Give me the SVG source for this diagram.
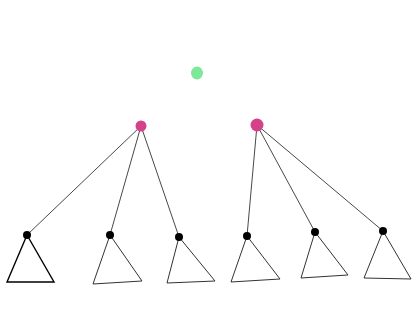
<svg xmlns="http://www.w3.org/2000/svg" width="415" height="325" viewBox="0 0 415 325">
<style>
.e{stroke:#333;stroke-width:0.9;fill:none}
.t{stroke:#333;stroke-width:1;fill:none}
.leaf{fill:#000}
.root{fill:#d6428a}
</style>
<rect width="415" height="325" fill="#fff"/>
<g id="connectors">
<line class="e" x1="141" y1="126" x2="27" y2="235"/>
<line class="e" x1="141" y1="126" x2="110" y2="235"/>
<line class="e" x1="141" y1="126" x2="179" y2="237"/>
<line class="e" x1="257" y1="125" x2="247" y2="236"/>
<line class="e" x1="257" y1="125" x2="315" y2="232"/>
<line class="e" x1="257" y1="125" x2="383" y2="231"/>
</g>
<g id="top"><ellipse cx="197" cy="73" rx="6" ry="6.5" fill="#7ee89a"/></g>
<g id="rootL"><circle class="root" cx="141" cy="126" r="5.5"/></g>
<g id="rootR"><circle class="root" cx="257" cy="125" r="6.5"/></g>
<g id="tri1"><polygon points="27,235 7,282 54,282" stroke="#000" stroke-width="1.4" fill="none"/><circle class="leaf" cx="27" cy="235" r="4"/></g>
<g id="tri2"><polygon class="t" points="110,235 93,284 142,281"/><circle class="leaf" cx="110" cy="235" r="4"/></g>
<g id="tri3"><polygon class="t" points="179,237 167,283 215,281"/><circle class="leaf" cx="179" cy="237" r="4"/></g>
<g id="tri4"><polygon class="t" points="247,236 231,282 280,279"/><circle class="leaf" cx="247" cy="236" r="4"/></g>
<g id="tri5"><polygon class="t" points="315,232 301,278 348,275"/><circle class="leaf" cx="315" cy="232" r="4"/></g>
<g id="tri6"><polygon class="t" points="383,231 364,278 411,279"/><circle class="leaf" cx="383" cy="231" r="4"/></g>
</svg>
